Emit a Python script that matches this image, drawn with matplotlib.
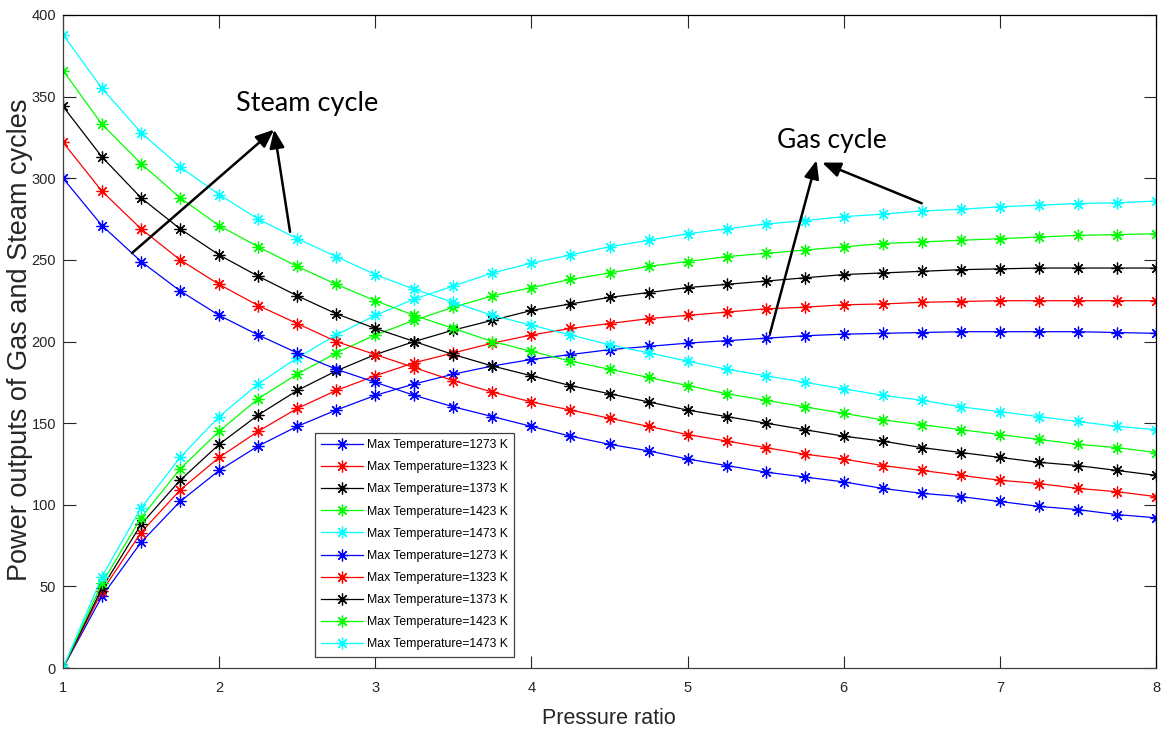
import numpy as np
import matplotlib
matplotlib.use("Agg")
import matplotlib.pyplot as plt
from matplotlib import font_manager as fm

# ---------------- data ----------------
pressure_ratio = [1.0, 1.25, 1.5, 1.75, 2.0, 2.25, 2.5, 2.75, 3.0, 3.25, 3.5, 3.75, 4.0,
                  4.25, 4.5, 4.75, 5.0, 5.25, 5.5, 5.75, 6.0, 6.25, 6.5, 6.75, 7.0,
                  7.25, 7.5, 7.75, 8.0]

temperatures = ["1273", "1323", "1373", "1423", "1473"]

steam_1273 = [300, 271, 249, 231, 216, 204, 193, 183, 175, 167, 160, 154, 148, 142, 137,
              133, 128, 124, 120, 117, 114, 110, 107, 105, 102, 99, 97, 94, 92]
steam_1323 = [322, 292, 269, 250, 235, 222, 211, 200, 192, 184, 176, 169, 163, 158, 153,
              148, 143, 139, 135, 131, 128, 124, 121, 118, 115, 113, 110, 108, 105]
steam_1373 = [344, 313, 288, 269, 253, 240, 228, 217, 208, 200, 192, 185, 179, 173, 168,
              163, 158, 154, 150, 146, 142, 139, 135, 132, 129, 126, 124, 121, 118]
steam_1423 = [366, 333, 309, 288, 271, 258, 246, 235, 225, 216, 208, 200, 194, 188, 183,
              178, 173, 168, 164, 160, 156, 152, 149, 146, 143, 140, 137, 135, 132]
steam_1473 = [388, 355, 328, 307, 290, 275, 263, 252, 241, 232, 224, 216, 210, 204, 198,
              193, 188, 183, 179, 175, 171, 167, 164, 160, 157, 154, 151, 148, 146]

gas_1273 = [0, 44, 77, 102, 121, 136, 148, 158, 167, 174, 180, 185, 189, 192, 195,
            197, 199, 200.5, 202, 203.5, 204.5, 205, 205.5, 206, 206, 206, 206, 205.5, 205]
gas_1323 = [0, 47, 83, 109, 129, 145, 159, 170, 179, 187, 193, 199, 204, 208, 211,
            214, 216, 218, 220, 221, 222.5, 223, 224, 224.5, 225, 225, 225, 225, 225]
gas_1373 = [0, 49, 88, 115, 137, 155, 170, 182, 192, 200, 207, 213, 219, 223, 227,
            230, 233, 235, 237, 239, 241, 242, 243, 244, 244.5, 245, 245, 245, 245]
gas_1423 = [0, 52, 92, 122, 145, 165, 180, 193, 204, 213, 221, 228, 233, 238, 242,
            246, 249, 252, 254, 256, 258, 260, 261, 262, 263, 264, 265, 265.5, 266]
gas_1473 = [0, 56, 98, 129, 154, 174, 190, 204, 216, 226, 234, 242, 248, 253, 258,
            262, 266, 269, 272, 274, 276.5, 278, 280, 281, 282.5, 283.5, 284.5, 285, 286]

steam_series = [steam_1273, steam_1323, steam_1373, steam_1423, steam_1473]
gas_series = [gas_1273, gas_1323, gas_1373, gas_1423, gas_1473]

x_ticks = [1, 2, 3, 4, 5, 6, 7, 8]
y_ticks = [0, 50, 100, 150, 200, 250, 300, 350, 400]

# ---------------- style ----------------
colors = ["#0000ff", "#ff0000", "#000000", "#00ff00", "#00ffff"]
available = {f.name for f in fm.fontManager.ttflist}
narrow = "Liberation Sans Narrow" if "Liberation Sans Narrow" in available else None
sans = "Liberation Sans"
tick_family = [narrow, sans] if narrow else [sans]
note_family = ["Lato", "DejaVu Sans"]

plt.rcParams["font.family"] = [sans, "DejaVu Sans"]

fig = plt.figure(figsize=(11.68, 7.36), dpi=100)
ax = fig.add_axes([63 / 1168, 1 - 668 / 736, (1156 - 63) / 1168, (668 - 15) / 736])

asterisk = (8, 2, 0)
handles = []
for series, c, t in zip(gas_series, colors, temperatures):
    h, = ax.plot(pressure_ratio, series, color=c, lw=0.9, marker=asterisk,
                 markersize=8.5, markeredgewidth=0.9, label=f"Max Temperature={t} K")
    handles.append(h)
for series, c, t in zip(steam_series, colors, temperatures):
    h, = ax.plot(pressure_ratio, series, color=c, lw=0.9, marker=asterisk,
                 markersize=8.5, markeredgewidth=0.9, label=f"Max Temperature={t} K")
    handles.append(h)

ax.set_xlim(1, 8)
ax.set_ylim(0, 400)
ax.set_xticks(x_ticks)
ax.set_yticks(y_ticks)
ax.set_xticklabels([str(v) for v in x_ticks])
ax.set_yticklabels([str(v) for v in y_ticks])
tick_size = 12 if narrow else 10.5
ax.tick_params(direction="in", length=9, width=0.8, top=True, right=True,
               labelsize=tick_size, labelcolor="#262626", color="#262626")
ax.tick_params(axis="x", pad=9)
ax.tick_params(axis="y", pad=5)
for lab in ax.get_xticklabels() + ax.get_yticklabels():
    lab.set_family(tick_family)
for side in ["left", "bottom"]:
    ax.spines[side].set_color("#404040")
for side in ["top", "right"]:
    ax.spines[side].set_color("#000000")
for s in ax.spines.values():
    s.set_linewidth(0.9)

fig.text(20 / 1168, 1 - 340 / 736, "Power outputs of Gas and Steam cycles",
         rotation=90, ha="center", va="center", fontsize=19.5, color="#262626",
         family=[sans, "DejaVu Sans"])
fig.text(609 / 1168, 1 - 718 / 736, "Pressure ratio", ha="center", va="center",
         fontsize=17 if narrow else 15.5, color="#262626", family=tick_family)

leg_size = 10.3 if narrow else 8.8
leg = ax.legend(handles=handles, loc="upper left",
                bbox_to_anchor=((315 - 63) / 1093, (668 - 433) / 653),
                prop={"family": tick_family, "size": leg_size},
                handlelength=3.4, handletextpad=0.35, labelspacing=0.83,
                borderpad=0.5, borderaxespad=0, fancybox=False, framealpha=1,
                edgecolor="#404040")
leg.get_frame().set_linewidth(0.9)

# annotations
steam_label_xy = (2.563, 345.5)
steam_arrow_tails = [(1.442, 254.2), (2.454, 267.2)]
steam_arrow_head = (2.352, 329.8)
gas_label_xy = (5.925, 323.4)
gas_arrow_tails = [(5.528, 205.0), (6.499, 284.7)]
gas_arrow_head = [(5.826, 311.0), (5.862, 309.6)]

arrow_props = dict(arrowstyle="-|>,head_length=1.1,head_width=0.45", color="black",
                   lw=1.8, shrinkA=0, shrinkB=0)
ax.text(*steam_label_xy, "Steam cycle", ha="center", va="center", fontsize=19.5,
        family=note_family, color="black")
for tail in steam_arrow_tails:
    ax.annotate("", xy=steam_arrow_head, xytext=tail, arrowprops=arrow_props)
ax.text(*gas_label_xy, "Gas cycle", ha="center", va="center", fontsize=19,
        family=note_family, color="black")
for tail, head in zip(gas_arrow_tails, gas_arrow_head):
    ax.annotate("", xy=head, xytext=tail, arrowprops=arrow_props)

fig.savefig("out.png", dpi=100, facecolor="white")
